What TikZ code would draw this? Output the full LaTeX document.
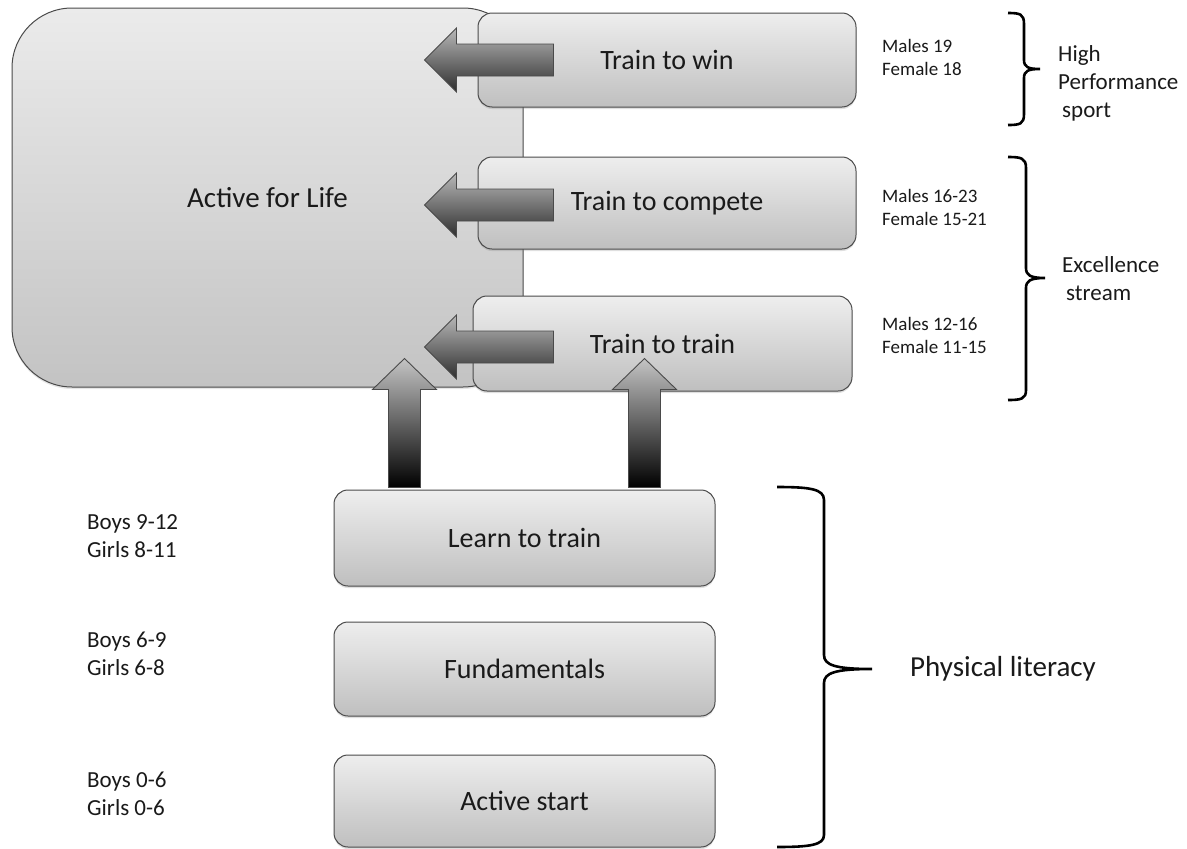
\documentclass[tikz,border=0pt]{standalone}
\usepackage{fontspec}
\setmainfont{Carlito}
\usetikzlibrary{shadows,calc}
\definecolor{boxtop}{HTML}{EEEEEE}
\definecolor{boxbot}{HTML}{BFBFBF}
\definecolor{bigtop}{HTML}{EBEBEB}
\definecolor{bigbot}{HTML}{C3C3C3}
\definecolor{edge}{HTML}{4A4A4A}
\definecolor{arrtop}{HTML}{B8B8B8}
\definecolor{arrbot}{HTML}{2E2E2E}
\definecolor{uptop}{HTML}{C4C4C4}
\definecolor{upbot}{HTML}{000000}
\definecolor{ink}{HTML}{1A1A1A}
\tikzset{
  stagebox/.style={draw=edge, line width=1pt, rounded corners=14pt,
    top color=boxtop, bottom color=boxbot, text=ink,
    font=\fontsize{28}{34}\selectfont,
    drop shadow={shadow xshift=0pt, shadow yshift=-2pt, opacity=0.25}},
  lifebox/.style={draw=edge, line width=1pt, rounded corners=60pt,
    top color=bigtop, bottom color=bigbot, text=ink,
    font=\fontsize{29}{34}\selectfont,
    drop shadow={shadow xshift=0pt, shadow yshift=-2pt, opacity=0.2}},
  larrow/.style={draw=edge, line width=0.9pt, line join=miter,
    top color=arrtop, bottom color=arrbot},
  uarrow/.style={draw=edge, line width=0.9pt, line join=miter,
    top color=uptop, bottom color=upbot},
  agelabel/.style={align=left, anchor=west, text=ink, inner sep=0pt,
    font=\fontsize{23}{28}\selectfont},
  smalllabel/.style={align=left, anchor=west, text=ink, inner sep=0pt,
    font=\fontsize{19}{23}\selectfont},
  grouplabel/.style={align=left, anchor=west, text=ink, inner sep=0pt,
    font=\fontsize{23}{28}\selectfont},
  bracestyle/.style={draw=black, line width=2.6pt, line join=miter},
  leftblock/.pic={\path[larrow] (0,0) -- (32,-32) -- (32,-16) -- (129,-16)
     -- (129,16) -- (32,16) -- (32,32) -- cycle;},
  upblock/.pic={\path[uarrow] (0,0) -- (16,0) -- (16,-98) -- (32,-98)
     -- (0,-129) -- (-32,-98) -- (-16,-98) -- (-16,0) -- cycle;}
}
\begin{document}
\begin{tikzpicture}[x=1pt,y=-1pt]
\useasboundingbox (0,0) rectangle (1187,849);
\fill[white] (0,0) rectangle (1187,849);

% big box
\node[lifebox, minimum width=511pt, minimum height=379pt] (life) at (267.5,197.5) {Active for Life};

% upper stage boxes
\node[stagebox, minimum width=378pt, minimum height=94pt] (win) at (667,60) {Train to win};
\node[stagebox, minimum width=378pt, minimum height=92pt] (compete) at (667,203) {Train to compete};
\node[stagebox, minimum width=379pt, minimum height=95pt] (train) at (662.5,343.5) {Train to train};

% lower stage boxes
\node[stagebox, minimum width=381pt, minimum height=96pt] (learn) at (524.5,538) {Learn to train};
\node[stagebox, minimum width=381pt, minimum height=94pt] (fund) at (524.5,669) {Fundamentals};
\node[stagebox, minimum width=381pt, minimum height=92pt] (start) at (524.5,801) {Active start};

% left block arrows into Active for Life
\pic at ([xshift=-53pt]win.west) {leftblock};
\pic at ([xshift=-53pt,yshift=-2pt]compete.west) {leftblock};
\pic at ([xshift=-48pt,yshift=-3.5pt]train.west) {leftblock};

% up block arrows from Learn to train
\pic at ([xshift=-120pt,yshift=2pt]learn.north) {upblock};
\pic at ([xshift=120pt,yshift=2pt]learn.north) {upblock};

% age labels left
\node[agelabel] (a1) at (87,536) {Boys 9-12\\Girls 8-11};
\node[agelabel] (a2) at (87,654) {Boys 6-9\\Girls 6-8};
\node[agelabel] (a3) at (87,794) {Boys 0-6\\Girls 0-6};

% age labels right
\node[smalllabel] (m1) at (882,57) {Males 19\\Female 18};
\node[smalllabel] (m2) at (882,207) {Males 16-23\\Female 15-21};
\node[smalllabel] (m3) at (882,335) {Males 12-16\\Female 11-15};

% braces
\draw[bracestyle] (1008,13) .. controls (1020,13) and (1024,14) .. (1024,24)
  -- (1024,60) .. controls (1024,67) and (1028,69) .. (1040,69)
  .. controls (1028,69) and (1024,71) .. (1024,78)
  -- (1024,114) .. controls (1024,124) and (1020,125) .. (1008,125);
\draw[bracestyle] (1008,157) .. controls (1021,157) and (1026,158) .. (1026,168)
  -- (1026,268) .. controls (1026,275) and (1030,278) .. (1045,278)
  .. controls (1030,278) and (1026,281) .. (1026,288)
  -- (1026,390) .. controls (1026,399) and (1021,400) .. (1008,400);
\draw[bracestyle] (777,487) .. controls (810,487) and (824,489) .. (824,500)
  -- (824,655) .. controls (824,665) and (835,669) .. (872,669)
  .. controls (835,669) and (824,673) .. (824,683)
  -- (824,835) .. controls (824,845) and (810,847) .. (777,847);

% group labels
\node[grouplabel] (hp) at (1058,83) {High\\Performance\\\hspace*{4pt}sport};
\node[grouplabel] (ex) at (1062,279) {Excellence\\\hspace*{4pt}stream};
\node[grouplabel, font=\fontsize{29}{34}\selectfont] (pl) at (910,669) {Physical literacy};
\end{tikzpicture}
\end{document}
